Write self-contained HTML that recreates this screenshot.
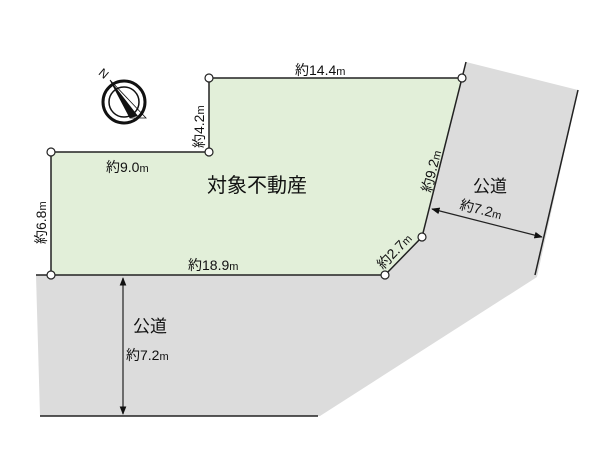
<!DOCTYPE html>
<html><head><meta charset="utf-8"><style>
html,body{margin:0;padding:0;background:#fff;}
svg{display:block}
text{font-family:"Liberation Sans","Noto Sans CJK JP",sans-serif;fill:#111}
</style></head><body>
<svg width="600" height="450" viewBox="0 0 600 450" xmlns="http://www.w3.org/2000/svg">
<defs>
<marker id="a" viewBox="0 0 10 10" refX="9" refY="5" markerWidth="7" markerHeight="7" orient="auto-start-reverse"><path d="M0,1 L10,5 L0,9 Z" fill="#111"/></marker>
</defs>
<polygon points="466,62 578,90 537,277 320,416 40,416 36,275 385,275 422,237" fill="#dcdcdc"/>
<polygon points="51,152 209,152 209,78 462,78 422,237 385,275 51,275" fill="#e2efd9" stroke="#222" stroke-width="1.5"/>
<line x1="36" y1="275" x2="51" y2="275" stroke="#222" stroke-width="1.5"/>
<line x1="462" y1="78" x2="466" y2="62" stroke="#222" stroke-width="1.5"/>
<line x1="578" y1="90" x2="535" y2="275" stroke="#222" stroke-width="1.5"/>
<line x1="40" y1="416" x2="318" y2="416" stroke="#222" stroke-width="1.5"/>
<g fill="#fff" stroke="#222" stroke-width="1.2">
<circle cx="51" cy="152" r="4"/><circle cx="209" cy="152" r="4"/><circle cx="209" cy="78" r="4"/><circle cx="462" cy="78" r="4"/><circle cx="422" cy="237" r="4"/><circle cx="385" cy="275" r="4"/><circle cx="51" cy="275" r="4"/>
</g>
<line x1="123" y1="278" x2="123" y2="414" stroke="#222" stroke-width="1.2" marker-start="url(#a)" marker-end="url(#a)"/>
<line x1="432" y1="209" x2="542" y2="237" stroke="#222" stroke-width="1.2" marker-start="url(#a)" marker-end="url(#a)"/>
<g>
<circle cx="124" cy="102" r="21" fill="none" stroke="#111" stroke-width="3"/>
<circle cx="124" cy="102" r="15" fill="none" stroke="#111" stroke-width="1.5"/>
<polygon points="110,80 138,116 130,118" fill="#111"/>
<polygon points="110,80 146,118 130,118" fill="none" stroke="#111" stroke-width="0.8"/>
<text x="101" y="75" font-size="12" transform="rotate(40 101 70)">N</text>
</g>
<text x="207" y="192" font-size="20">対象不動産</text>
<text x="295" y="75" font-size="14">約14.4<tspan font-size="11">m</tspan></text>
<text x="106" y="172" font-size="14">約9.0<tspan font-size="11">m</tspan></text>
<text x="188" y="270" font-size="14">約18.9<tspan font-size="11">m</tspan></text>
<text x="0" y="0" font-size="14" transform="translate(204,148) rotate(-90)">約4.2<tspan font-size="11">m</tspan></text>
<text x="0" y="0" font-size="14" transform="translate(46,244) rotate(-90)">約6.8<tspan font-size="11">m</tspan></text>
<text x="0" y="0" font-size="14" transform="translate(431,193) rotate(-76)">約9.2<tspan font-size="11">m</tspan></text>
<text x="0" y="0" font-size="14" transform="translate(383,270) rotate(-46)">約2.7<tspan font-size="11">m</tspan></text>
<text x="133" y="332" font-size="17">公道</text>
<text x="126" y="360" font-size="14">約7.2<tspan font-size="11">m</tspan></text>
<text x="473" y="192" font-size="17">公道</text>
<text x="0" y="0" font-size="14" transform="translate(459,209) rotate(14)">約7.2<tspan font-size="11">m</tspan></text>
</svg>
</body></html>
